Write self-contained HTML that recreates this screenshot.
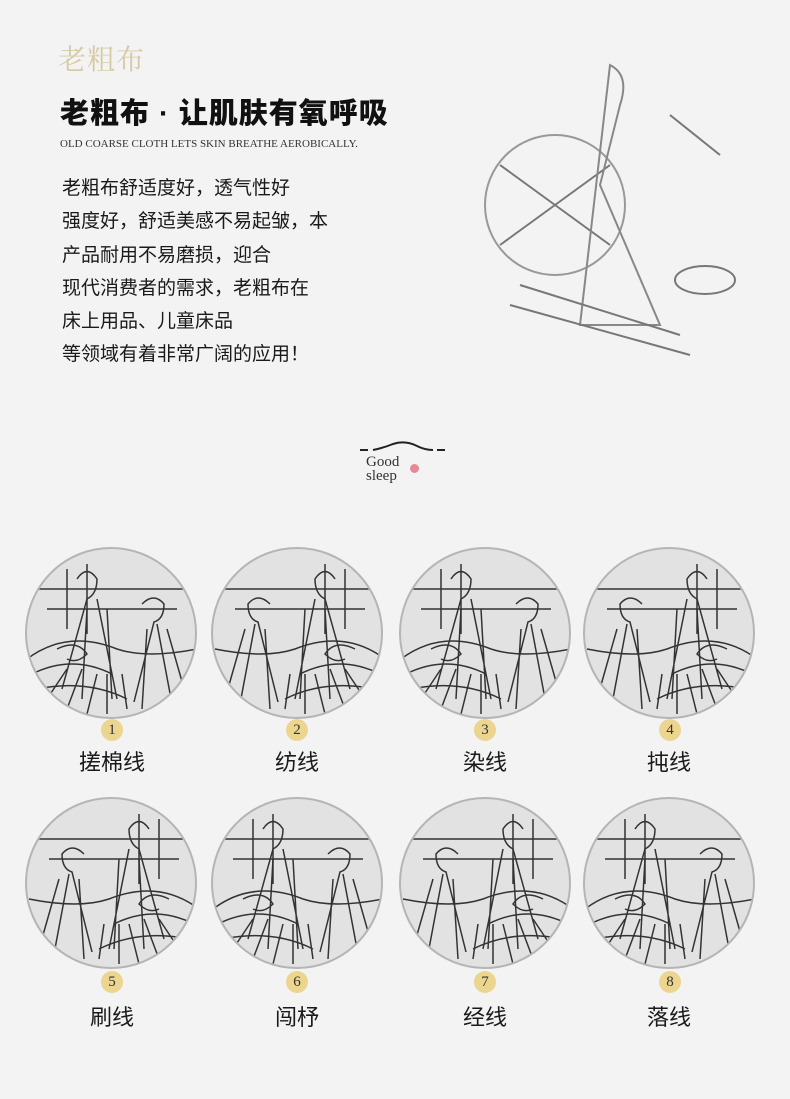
<!DOCTYPE html>
<html><head><meta charset="utf-8"><style>
body{margin:0;width:790px;height:1099px;background:#f3f3f3;position:relative;overflow:hidden;font-family:"Liberation Sans","Noto Sans CJK SC",sans-serif;color:#1a1a1a}
.abs{position:absolute}
.logo{left:58px;top:38px;font-size:28px;color:#d6c9a3;letter-spacing:1px;font-family:"Noto Serif CJK SC",serif}
.title{left:60px;top:90px;font-size:29px;font-weight:900;letter-spacing:1px;color:#111}
.en{left:60px;top:138px;font-size:11px;font-family:"Liberation Serif",serif;color:#333}
.body{left:62px;top:172px;font-size:19px;line-height:33.3px}
.c{position:absolute;width:172px;height:172px;border-radius:50%;background:#e2e2e2;border:2px solid #b5b5b5;box-sizing:border-box;overflow:hidden}
.c svg{position:absolute;left:0;top:0}
.b{position:absolute;width:22px;height:22px;border-radius:50%;background:#ecd58e;font-family:"Liberation Serif",serif;font-size:15px;text-align:center;line-height:22px;color:#333}
.l{position:absolute;font-size:22px;width:120px;text-align:center}
</style></head><body>
<svg width="0" height="0" style="position:absolute"><defs>
<g id="sk" fill="none" stroke="#333" stroke-width="1.5">
<path d="M10 40 h150 M20 60 h130 M40 20 v60 M60 15 v70"/>
<path d="M50 30 q10 -15 20 0 q0 15 -10 20 l-25 90 M70 50 l20 100 M60 60 l-5 90 M80 60 l5 90"/>
<path d="M115 55 q12 -12 22 0 q0 15 -10 18 l-20 80 M130 75 l15 80 M120 80 l-5 80 M140 80 l20 70"/>
<path d="M0 110 q40 -30 90 -10 q30 10 80 0 M5 125 q40 -20 80 0 M10 140 q50 -10 90 10 M20 150 l20 -30 M40 160 l15 -40 M60 165 l10 -40 M80 165 l0 -40 M100 160 l-5 -35"/>
<path d="M30 100 q20 -10 30 5 q-10 10 -20 5"/>
</g></defs></svg>
<div class="abs logo">老粗布</div>
<div class="abs title">老粗布 · 让肌肤有氧呼吸</div>
<div class="abs en">OLD COARSE CLOTH LETS SKIN BREATHE AEROBICALLY.</div>
<div class="abs body">老粗布舒适度好，透气性好<br>强度好，舒适美感不易起皱，本<br>产品耐用不易磨损，迎合<br>现代消费者的需求，老粗布在<br>床上用品、儿童床品<br>等领域有着非常广阔的应用！</div>
<svg class="abs" style="left:480px;top:55px" width="270" height="320" stroke="#777" fill="none" stroke-width="2">
<circle cx="75" cy="150" r="70" stroke="#999"/><line x1="20" y1="110" x2="130" y2="190"/><line x1="20" y1="190" x2="130" y2="110"/>
<path d="M130 10 q20 10 10 40 l-20 80 l60 140 l-80 0 z" stroke="#888"/>
<line x1="30" y1="250" x2="210" y2="300"/><line x1="40" y1="230" x2="200" y2="280"/>
<ellipse cx="225" cy="225" rx="30" ry="14"/>
<line x1="190" y1="60" x2="240" y2="100"/>
</svg>
<svg class="abs" style="left:355px;top:440px" width="95" height="20"><path d="M5 10 h8 M18 10 q10 -2 20 -6 q12 -4 24 2 q8 4 16 4 M82 10 h8" stroke="#222" stroke-width="2" fill="none"/></svg>
<div class="abs" style="left:366px;top:455px;font-family:'Liberation Serif',serif;font-size:15px;line-height:14px;color:#333">Good<br>sleep</div>
<div class="abs" style="left:410px;top:464px;width:9px;height:9px;border-radius:50%;background:#e58a95"></div>

<div class="c" style="left:25px;top:547px"><svg width="172" height="172"><use href="#sk"/></svg></div>
<div class="c" style="left:211px;top:547px"><svg width="172" height="172"><use href="#sk" transform="translate(172,0) scale(-1,1)"/></svg></div>
<div class="c" style="left:399px;top:547px"><svg width="172" height="172"><use href="#sk"/></svg></div>
<div class="c" style="left:583px;top:547px"><svg width="172" height="172"><use href="#sk" transform="translate(172,0) scale(-1,1)"/></svg></div>
<div class="c" style="left:25px;top:797px"><svg width="172" height="172"><use href="#sk" transform="translate(172,0) scale(-1,1)"/></svg></div>
<div class="c" style="left:211px;top:797px"><svg width="172" height="172"><use href="#sk"/></svg></div>
<div class="c" style="left:399px;top:797px"><svg width="172" height="172"><use href="#sk" transform="translate(172,0) scale(-1,1)"/></svg></div>
<div class="c" style="left:583px;top:797px"><svg width="172" height="172"><use href="#sk"/></svg></div>

<div class="b" style="left:101px;top:719px">1</div>
<div class="b" style="left:286px;top:719px">2</div>
<div class="b" style="left:474px;top:719px">3</div>
<div class="b" style="left:659px;top:719px">4</div>
<div class="b" style="left:101px;top:971px">5</div>
<div class="b" style="left:286px;top:971px">6</div>
<div class="b" style="left:474px;top:971px">7</div>
<div class="b" style="left:659px;top:971px">8</div>

<div class="l" style="left:52px;top:745px">搓棉线</div>
<div class="l" style="left:237px;top:745px">纺线</div>
<div class="l" style="left:425px;top:745px">染线</div>
<div class="l" style="left:609px;top:745px">扽线</div>
<div class="l" style="left:52px;top:1000px">刷线</div>
<div class="l" style="left:237px;top:1000px">闯杼</div>
<div class="l" style="left:425px;top:1000px">经线</div>
<div class="l" style="left:609px;top:1000px">落线</div>
</body></html>
